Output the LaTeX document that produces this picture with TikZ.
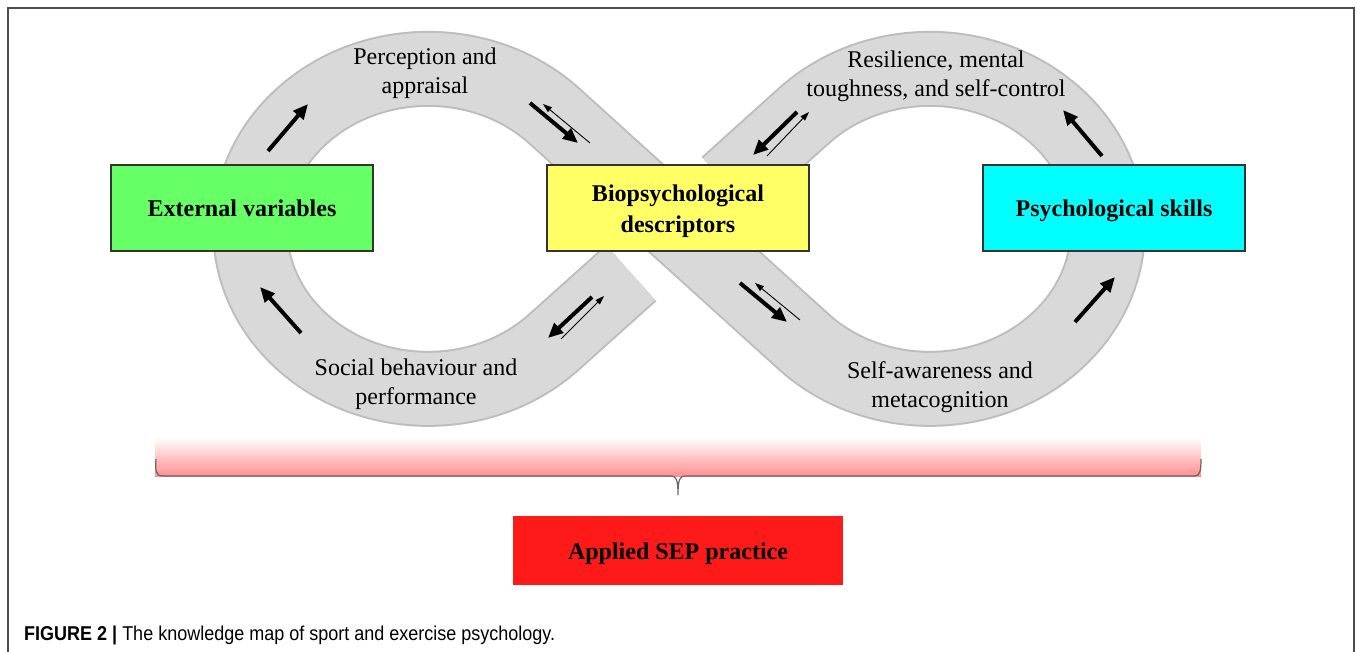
\documentclass[tikz,border=0pt]{standalone}
\usepackage{fontspec}
\setmainfont{Liberation Serif}
\newfontfamily\capfont[FakeStretch=0.9]{Liberation Sans}
\usetikzlibrary{arrows.meta}
\definecolor{roadfill}{HTML}{D9D9D9}
\definecolor{roadedge}{HTML}{BDBDBD}
\definecolor{extgreen}{HTML}{66FF66}
\definecolor{bioyellow}{HTML}{FFFF66}
\definecolor{psycyan}{HTML}{00FFFF}
\definecolor{sepred}{HTML}{FF1A1A}
\definecolor{bandpink}{HTML}{FF8F8F}
\newcommand{\boxstrut}{\rule[-6pt]{0pt}{30pt}}
\begin{document}
\begin{tikzpicture}[x=1pt, y=-1pt,
    box/.style={draw=black!80, line width=1.5pt, minimum width=262pt, minimum height=86pt, inner sep=0pt, align=center, font=\fontsize{24}{29}\selectfont\bfseries},
    lbl/.style={inner sep=0pt, align=center, font=\fontsize{24}{29}\selectfont},
    bigarrow/.style={line width=4pt, -{Triangle[length=15pt, width=13pt]}},
    thinarrow/.style={line width=0.9pt, -{Triangle[length=9pt, width=6pt]}},
    road/.style={draw=roadedge, line width=2pt, double=roadfill, double distance=72pt}]
      \useasboundingbox (0,0) rectangle (1357,652);
      \draw[black!70, line width=1.5pt] (8,660) -- (8,8) -- (1354,8) -- (1354,660);

      \draw[road] (631,273) -- (554,342) arc[start angle=45, end angle=315, x radius=178, y radius=160]
        -- (804,342) arc[start angle=135, end angle=-135, x radius=178, y radius=160] -- (727,185);

      \draw[bigarrow] (268,151) -- (308,104);
      \draw[bigarrow] (301,333) -- (260,287);
      \draw[bigarrow] (530,103) -- (578,143);
      \draw[thinarrow] (590,143) -- (543,104);
      \draw[bigarrow] (592,297) -- (548,338);
      \draw[thinarrow] (561,339) -- (604,296);
      \draw[bigarrow] (797,112) -- (753,155);
      \draw[thinarrow] (767,156) -- (809,112);
      \draw[bigarrow] (740,283) -- (787,322);
      \draw[thinarrow] (800,320) -- (755,283);
      \draw[bigarrow] (1102,156) -- (1063,110);
      \draw[bigarrow] (1075,322) -- (1115,277);

      \node[lbl] (lbl0) at (425,73) {Perception and\\appraisal};
      \node[lbl] (lbl1) at (936,76) {Resilience, mental\\toughness, and self-control};
      \node[lbl] (lbl2) at (416,384) {Social behaviour and\\performance};
      \node[lbl] (lbl3) at (940,387) {Self-awareness and\\metacognition};

      \node[box, fill=extgreen] (box0) at (242,208) {\boxstrut External variables};
      \node[box, fill=bioyellow] (box1) at (678,208) {\boxstrut Biopsychological\\descriptors\boxstrut};
      \node[box, fill=psycyan] (box2) at (1114,208) {\boxstrut Psychological skills};

      \shade[top color=white, bottom color=bandpink] (155,437) rectangle (1201,476);
      \draw[black!60, line width=1.2pt] (156,459) .. controls (155,470) and (156,476) .. (162,476) -- (671,476)
        .. controls (676,476) and (678,479) .. (678,495) .. controls (678,479) and (680,476) .. (685,476)
        -- (1195,476) .. controls (1200,476) and (1201,470) .. (1201,459);

      \node[box, fill=sepred, draw=none, minimum width=330pt, minimum height=69pt] (box3) at (678,550) {\boxstrut Applied SEP practice};

      \node[anchor=base west, inner sep=0pt, font=\capfont\fontsize{20}{24}\selectfont] (cap) at (24,640) {\textbf{FIGURE 2 |} The knowledge map of sport and exercise psychology.};
    \end{tikzpicture}
\end{document}
